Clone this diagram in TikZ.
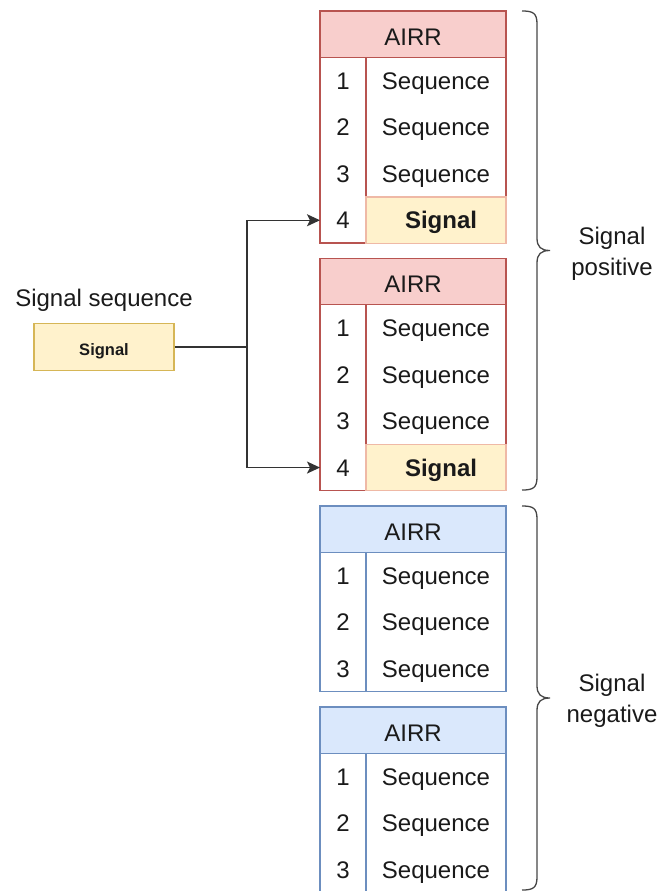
\documentclass[tikz,border=0pt]{standalone}
\usepackage{fontspec}
\setmainfont{Liberation Sans}
\usetikzlibrary{arrows.meta}

\definecolor{redline}{HTML}{B85450}
\definecolor{redfill}{HTML}{F8CECC}
\definecolor{blueline}{HTML}{6C8EBF}
\definecolor{bluefill}{HTML}{DAE8FC}
\definecolor{yellowfill}{HTML}{FFF2CC}
\definecolor{yellowline}{HTML}{D6B656}
\definecolor{sigline}{HTML}{EFB9A6}
\definecolor{ink}{HTML}{1A1A1A}
\definecolor{wire}{HTML}{333333}

\tikzset{
  txt/.style={inner sep=0pt, outer sep=0pt, text=ink,
    font=\fontsize{24}{31}\selectfont, text height=17.2pt, text depth=0pt},
  hdr/.style={txt, anchor=north west, minimum width=186pt, minimum height=46.5pt,
    text height=22pt},
  numcell/.style={txt, anchor=north west, minimum width=46pt, minimum height=46.5pt},
  seqcell/.style={txt, anchor=north west, minimum width=140pt, minimum height=46.5pt},
  sigcell/.style={seqcell, draw=sigline, fill=yellowfill, line width=1.2pt,
    font=\fontsize{24}{31}\selectfont\bfseries},
  tabline/.style={line width=1.2pt},
  wireline/.style={draw=wire, line width=1.3pt},
  arrowline/.style={wireline, -{Stealth[length=13pt, width=12pt, inset=3pt]}},
  bracket/.style={draw=wire!90, line width=1.3pt},
  sidelabel/.style={inner sep=0pt, text=ink, align=center,
    font=\fontsize{24}{31}\selectfont},
}

% One AIRR table: #1 name, #2 top edge, #3 line colour, #4 header fill, #5 bottom edge
\newcommand{\airrtable}[5]{%
  \node[hdr, fill=#4] (#1h) at (320,#2) {AIRR};
  \foreach \i in {1,2,3}{%
    \node[numcell] (#1n\i) at (320,#2+46.5*\i) {\i};
    \node[seqcell] (#1s\i) at (366,#2+46.5*\i) {Sequence};
  }
  \draw[tabline, draw=#3] (320,#2) rectangle (506,#5);
  \draw[tabline, draw=#3] (#1h.south west) -- (#1h.south east);
  \draw[tabline, draw=#3] (#1n1.north east) -- (366,#5);
}

\begin{document}
\begin{tikzpicture}[x=1pt, y=-1pt]
  \useasboundingbox (0,0) rectangle (665,891);
  \clip (0,0) rectangle (665,891);

  % signal-positive repertoires
  \airrtable{ra}{11}{redline}{redfill}{243}
  \node[numcell] (ran4) at (320,197) {4};
  \node[sigcell] (ras4) at (366,197) {\hspace*{10pt}Signal};

  \airrtable{rb}{258.3}{redline}{redfill}{490.3}
  \node[numcell] (rbn4) at (320,444.3) {4};
  \node[sigcell] (rbs4) at (366,444.3) {\hspace*{10pt}Signal};

  % signal-negative repertoires
  \airrtable{ba}{506}{blueline}{bluefill}{691.5}
  \airrtable{bb}{707}{blueline}{bluefill}{893}

  % signal sequence being implanted
  \node[sidelabel] (siglabel) at (104,300) {Signal sequence};
  \node[draw=yellowline, fill=yellowfill, line width=1.2pt, minimum width=140pt,
        minimum height=46.5pt, inner sep=0pt, text=ink, text height=16pt, text depth=0pt,
        font=\fontsize{16.5}{20}\selectfont\bfseries] (sig) at (104,347) {Signal};

  \coordinate (split) at (247,347);
  \draw[wireline] (sig.east) -- (split);
  \draw[arrowline] (split) |- (ran4.west);
  \draw[arrowline] (split) |- (rbn4.west);

  % braces
  \coordinate (posTip) at (550,250.5);
  \draw[bracket] (522,11) .. controls (533,11) and (537,13) .. (537,24)
    -- (537,238) .. controls (537,247) and (541,250.5) .. (posTip)
    .. controls (541,250.5) and (537,254) .. (537,263)
    -- (537,477) .. controls (537,488) and (533,490) .. (522,490);
  \node[sidelabel] (poslabel) at (612,254) {Signal\\positive};

  \coordinate (negTip) at (550,698);
  \draw[bracket] (522,506) .. controls (533,506) and (537,508) .. (537,519)
    -- (537,685.5) .. controls (537,694.5) and (541,698) .. (negTip)
    .. controls (541,698) and (537,701.5) .. (537,710.5)
    -- (537,877) .. controls (537,888) and (533,890) .. (522,890);
  \node[sidelabel] (neglabel) at (612,701) {Signal\\negative};
\end{tikzpicture}
\end{document}
